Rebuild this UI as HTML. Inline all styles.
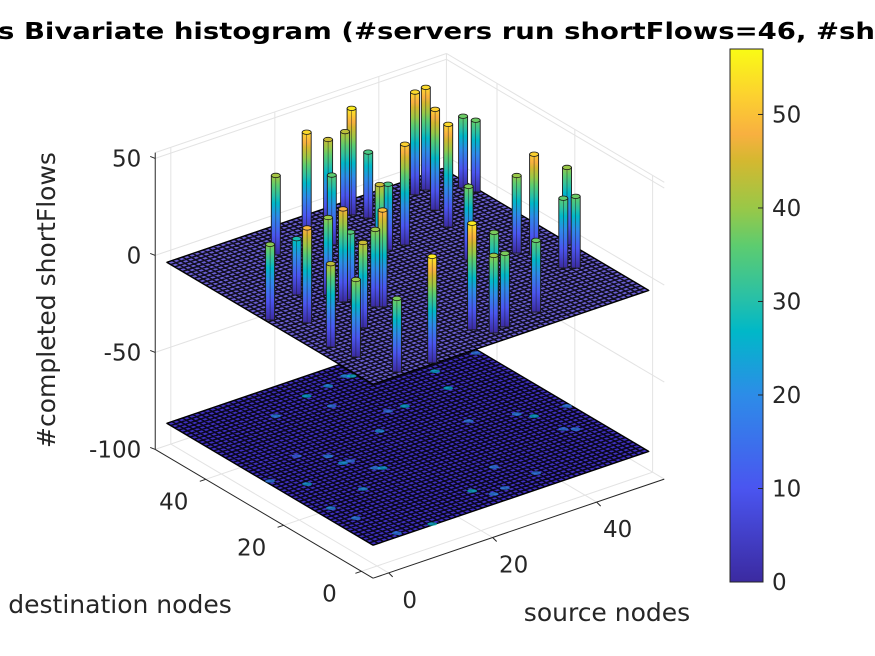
<!DOCTYPE html>
<html><head><meta charset="utf-8"><style>
html,body{margin:0;padding:0;background:#fff;}
svg{display:block;font-family:"DejaVu Sans","Liberation Sans",sans-serif;}
</style></head><body>
<svg id="chart" width="875" height="656" viewBox="0 0 875 656" xmlns="http://www.w3.org/2000/svg">
<defs id="defs"></defs>
<g id="grid"></g>
<g id="planes"></g>
<g id="bars"></g>
<g id="axes"></g>
<text x="-2" y="39" font-size="23" font-weight="bold" fill="#000" textLength="877" lengthAdjust="spacingAndGlyphs">s Bivariate histogram (#servers run shortFlows=46, #sh</text>
<text x="607" y="621" font-size="25" fill="#262626" text-anchor="middle">source nodes</text>
<text x="120" y="613" font-size="25" fill="#262626" text-anchor="middle">destination nodes</text>
<text transform="translate(55,300) rotate(-90)" font-size="25" fill="#262626" text-anchor="middle">#completed shortFlows</text>
<g id="colorbar"></g>
</svg>
<script>
// ---- data ----
const srcNodes = [11.8,-2.3,6.1,19.7,1.6,24.4,9.9,28.5,29.3,20.7,10.3,-0.5,0.5,7.4,13.2,14.1,30.7,21.4,2.4,29.6,41.2,43.5,40.5,38.6,48.5,49.2,34.3,20.3,27.9,22.3,24.9,41.6,43.3,31.8,49.4,44.2,45.7,8.6,26.5,11.6];
const dstNodes = [41.8,24.4,28.8,44.4,20.1,45.2,25.8,46.3,45.7,39.3,22.5,11.2,6.1,13.5,18.1,17.4,43.3,27.9,-1.9,32.4,45.3,45.6,39.2,33.3,42.7,40.4,22.3,2.7,7.2,-0.2,0.4,19.7,17.5,1.6,17.2,11.2,10,-2.7,32.6,22.4];
const flowCounts = [41,39,29,53,49,44,40,43,55,36,48,43,40,44,40,50,34,44,38,52,53,53,52,53,37,37,38,55,38,40,38,40,52,37,40,36,37,55,34,35];
const zTicks = [-100,-50,0,50];
const xTicks = [0,20,40];
const yTicks = [0,20,40];
const cbTicks = [0,10,20,30,40,50];
const cMax = 57;
const upperZ = 0, lowerZ = -83;

// ---- projection ----
const O = [377,372], EX=[5.2,-1.77], EY=[-3.89,-2.30], EZ=-1.94;
function P(x,y,z){return [O[0]+x*EX[0]+y*EY[0], O[1]+x*EX[1]+y*EY[1]+z*EZ];}
const XMIN=-3,XMAX=53,YMIN=-3,YMAX=53,ZMIN=-100,ZMAX=53, PMIN=-3, PMAX=50;
const NS="http://www.w3.org/2000/svg";
function mk(tag,attrs,parent){const e=document.createElementNS(NS,tag);for(const k in attrs)e.setAttribute(k,attrs[k]);parent.appendChild(e);return e;}
function pts(a){return a.map(p=>p[0].toFixed(1)+","+p[1].toFixed(1)).join(" ");}

// parula-like colormap
const cmapPos=[0,0.175,0.35,0.47,0.53,0.63,0.70,0.79,0.84,0.91,1];
const cmapCol=[[59,42,160],[74,85,240],[45,140,232],[0,184,200],[39,192,168],[92,204,112],[152,200,72],[212,184,48],[248,176,64],[252,208,48],[249,251,21]];
function cmap(t){t=Math.max(0,Math.min(1,t));for(let i=1;i<cmapPos.length;i++){if(t<=cmapPos[i]){const f=(t-cmapPos[i-1])/(cmapPos[i]-cmapPos[i-1]);const a=cmapCol[i-1],b=cmapCol[i];return "rgb("+a.map((v,k)=>Math.round(v+(b[k]-v)*f)).join(",")+")";}}return "rgb(249,251,21)";}

const defs=document.getElementById('defs');
const grid=document.getElementById('grid');
const planes=document.getElementById('planes');
const barsG=document.getElementById('bars');
const axesG=document.getElementById('axes');

// ---- grid on back walls and floor ----
const gs={stroke:"#e3e3e3","stroke-width":1,fill:"none"};
function gline(a,b,name){const l=mk('line',Object.assign({x1:a[0],y1:a[1],x2:b[0],y2:b[1]},gs),grid);

}
zTicks.forEach(z=>{gline(P(XMIN,YMAX,z),P(XMAX,YMAX,z),'grid-z');gline(P(XMAX,YMIN,z),P(XMAX,YMAX,z),'grid-z');});
xTicks.forEach(x=>{gline(P(x,YMAX,ZMIN),P(x,YMAX,ZMAX),'grid-x');gline(P(x,YMIN,ZMIN),P(x,YMAX,ZMIN),'grid-x');});
yTicks.forEach(y=>{gline(P(XMAX,y,ZMIN),P(XMAX,y,ZMAX),'grid-y');gline(P(XMIN,y,ZMIN),P(XMAX,y,ZMIN),'grid-y');});
gline(P(XMIN,YMAX,ZMAX),P(XMAX,YMAX,ZMAX),'box-top');gline(P(XMAX,YMIN,ZMAX),P(XMAX,YMAX,ZMAX),'box-top');
gline(P(XMAX,YMAX,ZMIN),P(XMAX,YMAX,ZMAX),'box-back-edge');

// ---- planes ----
function plane(z,fill,name,meshW){
  const g=mk('g',{},planes);
  
  
  mk('polygon',{points:pts([P(PMIN,PMIN,z),P(PMAX,PMIN,z),P(PMAX,PMAX,z),P(PMIN,PMAX,z)]),fill:fill,stroke:"#000","stroke-width":1},g);
  let d="";
  for(let i=PMIN;i<=PMAX;i++){const a=P(i,PMIN,z),b=P(i,PMAX,z),c=P(PMIN,i,z),e=P(PMAX,i,z);
    d+="M"+a[0].toFixed(1)+" "+a[1].toFixed(1)+"L"+b[0].toFixed(1)+" "+b[1].toFixed(1);
    d+="M"+c[0].toFixed(1)+" "+c[1].toFixed(1)+"L"+e[0].toFixed(1)+" "+e[1].toFixed(1);}
  mk('path',{d:d,stroke:"#000","stroke-width":meshW,"stroke-opacity":0.85,fill:"none"},g);
  return g;
}
const lower=plane(lowerZ,"#3f2fc0","lower-heatmap-plane",1.5);
// heat spots on lower plane
for(let i=0;i<srcNodes.length;i++){const c=P(srcNodes[i],dstNodes[i],lowerZ);
  const s=mk('ellipse',{cx:c[0].toFixed(1),cy:c[1].toFixed(1),rx:5,ry:1.8,fill:cmap(flowCounts[i]/cMax*0.5),opacity:0.7},lower);
  
  }
plane(upperZ,"#6a5ed4","upper-histogram-plane",1.5);

// ---- bars ----
const order=srcNodes.map((_,i)=>i).sort((a,b)=>(srcNodes[b]+dstNodes[b])-(srcNodes[a]+dstNodes[a]));
const W=9;
order.forEach(i=>{
  const h=flowCounts[i];
  const base=P(srcNodes[i],dstNodes[i],upperZ), top=P(srcNodes[i],dstNodes[i],upperZ+h);
  const gid="g"+i;
  const lg=mk('linearGradient',{id:gid,x1:0,y1:0,x2:0,y2:1},defs);
  const vals=[h];
  for(let k=cmapPos.length-1;k>=0;k--){const v=cmapPos[k]*cMax;if(v<h)vals.push(v);}
  vals.forEach(v=>mk('stop',{offset:(1-v/h).toFixed(3),"stop-color":cmap(v/cMax)},lg));
  const g=mk('g',{},barsG);
  
  
  mk('rect',{x:(base[0]-W/2).toFixed(1),y:top[1].toFixed(1),width:W,height:(base[1]-top[1]).toFixed(1),fill:"url(#"+gid+")",stroke:"#1a1a1a","stroke-width":0.9},g);
  mk('line',{x1:base[0].toFixed(1),y1:top[1].toFixed(1),x2:base[0].toFixed(1),y2:base[1].toFixed(1),stroke:"#1a1a1a","stroke-width":0.6,"stroke-opacity":0.7},g);
  mk('ellipse',{cx:top[0].toFixed(1),cy:top[1].toFixed(1),rx:W/2,ry:2.2,fill:cmap(h/cMax),stroke:"#1a1a1a","stroke-width":0.8},g);
});

// ---- axes ----
const as={stroke:"#262626","stroke-width":1};
function aline(a,b,name){const l=mk('line',Object.assign({x1:a[0],y1:a[1],x2:b[0],y2:b[1]},as),axesG);

}
aline(P(XMIN,YMIN,ZMIN),P(XMAX,YMIN,ZMIN),'x-axis-line');
aline(P(XMIN,YMIN,ZMIN),P(XMIN,YMAX,ZMIN),'y-axis-line');
aline(P(XMIN,YMAX,ZMIN),P(XMIN,YMAX,ZMAX),'z-axis-line');
function tlabel(x,y,txt,anchor,name){const t=mk('text',{x:x,y:y,"font-size":23,fill:"#262626","text-anchor":anchor},axesG);t.textContent=txt;

}
xTicks.forEach(x=>{const a=P(x,YMIN,ZMIN);aline(a,[a[0]+4,a[1]+4],'x-tick');tlabel(a[0]+21,a[1]+35,String(x),'middle','x-tick-label');});
yTicks.forEach(y=>{const a=P(XMIN,y,ZMIN);aline(a,[a[0]-6,a[1]+2],'y-tick');tlabel(a[0]-32,a[1]+30,String(y),'middle','y-tick-label');});
zTicks.forEach(z=>{const a=P(XMIN,YMAX,z);aline(a,[a[0]-5,a[1]-2],'z-tick');tlabel(a[0]-14,a[1]+8,String(z),'end','z-tick-label');});

// ---- colorbar ----
const cb=document.getElementById('colorbar');
const cbX=730,cbW=33,cbTop=49,cbBot=582;
const cg=mk('linearGradient',{id:"cbg",x1:0,y1:1,x2:0,y2:0},defs);
cmapPos.forEach((p,k)=>mk('stop',{offset:p,"stop-color":"rgb("+cmapCol[k].join(",")+")"},cg));
const cr=mk('rect',{x:cbX,y:cbTop,width:cbW,height:cbBot-cbTop,fill:"url(#cbg)",stroke:"#262626","stroke-width":1},cb);


cbTicks.forEach(v=>{const y=cbBot-v/cMax*(cbBot-cbTop);
  mk('line',{x1:cbX+cbW-5,y1:y,x2:cbX+cbW,y2:y,stroke:"#262626","stroke-width":1},cb);
  const t=mk('text',{x:cbX+cbW+9,y:y+8,"font-size":23,fill:"#262626"},cb);t.textContent=String(v);
  
  });
</script>
</body></html>
